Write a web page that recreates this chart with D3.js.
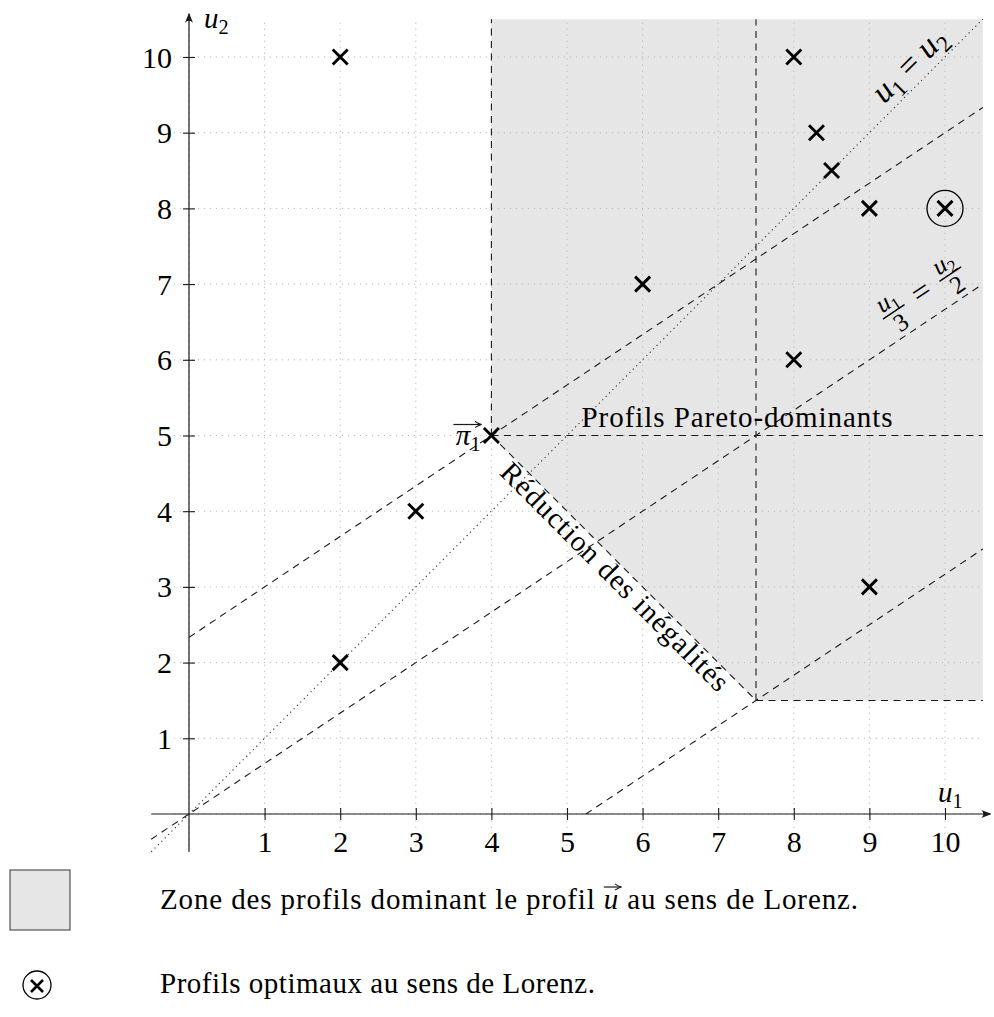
<!DOCTYPE html>
<html>
<head>
<meta charset="utf-8">
<script src="https://cdn.jsdelivr.net/npm/d3@7"></script>
<style>
  body { margin: 0; background: #fff; }
  svg text { font-family: "Liberation Serif", "DejaVu Serif", serif; }
</style>
</head>
<body>
<svg id="chart" width="994" height="1017"></svg>
<script>
// ---- data ----------------------------------------------------------
const tickValues = [1, 2, 3, 4, 5, 6, 7, 8, 9, 10];
const gridValues = [0, 1, 2, 3, 4, 5, 6, 7, 8, 9, 10];

// candidate utility profiles (u1, u2)
const profileU1 = [2, 8, 8.3, 8.5, 9, 10, 6, 8, 4, 3, 2, 9];
const profileU2 = [10, 10, 9, 8.5, 8, 8, 7, 6, 5, 4, 2, 3];

// Lorenz-optimal profiles
const optimalU1 = [10];
const optimalU2 = [8];

// reference profile pi_1
const pi1 = [4, 5];

// zone of profiles Lorenz-dominating pi_1
const zoneU1 = [4, 4, 7.5, 10.5, 10.5];
const zoneU2 = [10.5, 5, 1.5, 1.5, 10.5];

// dashed construction segments: [u1 start, u2 start, u1 end, u2 end]
const dashedSegments = [
  [4, 5, 4, 10.5],
  [4, 5, 10.5, 5],
  [7.5, 1.5, 7.5, 10.5],
  [7.5, 1.5, 10.5, 1.5],
  [4, 5, 7.5, 1.5],
  [0, 7 / 3, 10.5, 28 / 3],
  [-0.5, -1 / 3, 10.5, 7],
  [5.25, 0, 10.5, 3.5]
];
// bisector u1 = u2
const bisector = [-0.5, -0.5, 10.5, 10.5];

// ---- layout --------------------------------------------------------
const SERIF = "Liberation Serif";
const svg = d3.select("#chart");
const x = d3.scaleLinear().domain([0, 10]).range([189, 945]);
const y = d3.scaleLinear().domain([0, 10]).range([814, 57]);

const FONT = 29;
const ink = "#1a1a1a";

const defs = svg.append("defs");
defs.append("marker")
  .attr("id", "arrowhead")
  .attr("viewBox", "0 0 10 10")
  .attr("refX", 9).attr("refY", 5)
  .attr("markerWidth", 10).attr("markerHeight", 10)
  .attr("markerUnits", "userSpaceOnUse")
  .attr("orient", "auto")
  .append("path")
  .attr("d", "M0,1 Q4,5 0,9 L10,5 Z")
  .attr("fill", ink);
defs.append("marker")
  .attr("id", "vecarrow")
  .attr("viewBox", "0 0 10 10")
  .attr("refX", 9).attr("refY", 5)
  .attr("markerWidth", 8).attr("markerHeight", 8)
  .attr("markerUnits", "userSpaceOnUse")
  .attr("orient", "auto")
  .append("path")
  .attr("d", "M1,1 Q5,4 9,5 Q5,6 1,9")
  .attr("fill", "none").attr("stroke", ink).attr("stroke-width", 1.3);

// zone fill
svg.append("polygon")
  .attr("points", zoneU1.map((u, i) => [x(u), y(zoneU2[i])].join(",")).join(" "))
  .attr("fill", "#e6e6e6");

// grid
const grid = svg.append("g")
  .attr("stroke", "#b8b8b8").attr("stroke-width", 1)
  .attr("stroke-dasharray", "1.2,4.8");
grid.selectAll("line.v").data(gridValues).join("line").attr("class", "v")
  .attr("x1", d => x(d)).attr("x2", d => x(d))
  .attr("y1", y(-0.5)).attr("y2", y(10.5));
grid.selectAll("line.h").data(gridValues).join("line").attr("class", "h")
  .attr("y1", d => y(d)).attr("y2", d => y(d))
  .attr("x1", x(-0.2)).attr("x2", x(10.5));

// dashed construction lines
svg.append("g")
  .attr("stroke", ink).attr("stroke-width", 1.1)
  .attr("stroke-dasharray", "7,5.5")
  .selectAll("line").data(dashedSegments).join("line")
  .attr("x1", d => x(d[0])).attr("y1", d => y(d[1]))
  .attr("x2", d => x(d[2])).attr("y2", d => y(d[3]));

// bisector, dotted
svg.append("line")
  .attr("x1", x(bisector[0])).attr("y1", y(bisector[1]))
  .attr("x2", x(bisector[2])).attr("y2", y(bisector[3]))
  .attr("stroke", "#333").attr("stroke-width", 1.1)
  .attr("stroke-dasharray", "1.2,3.6");

// axes
const xAxis = svg.append("g")
  .attr("transform", `translate(0,${y(0)})`)
  .call(d3.axisBottom(x).tickValues(tickValues).tickSize(6).tickSizeOuter(0))
  .attr("font-family", SERIF).attr("font-size", 30);
xAxis.select(".domain").remove();
xAxis.selectAll(".tick line").attr("y1", -6).attr("y2", 6).attr("stroke", ink).attr("stroke-width", 1.1);
xAxis.selectAll(".tick text")
  .attr("y", 38).attr("dy", 0).attr("fill", "#000");

const yAxis = svg.append("g")
  .attr("transform", `translate(${x(0)},0)`)
  .call(d3.axisLeft(y).tickValues(tickValues).tickSize(6).tickSizeOuter(0))
  .attr("font-family", SERIF).attr("font-size", 30);
yAxis.select(".domain").remove();
yAxis.selectAll(".tick line").attr("x1", -6).attr("x2", 6).attr("stroke", ink).attr("stroke-width", 1.1);
yAxis.selectAll(".tick text")
  .attr("x", -17).attr("dy", 0).attr("y", 10).attr("fill", "#000");

svg.append("line")
  .attr("x1", x(-0.5)).attr("y1", y(0))
  .attr("x2", x(10.6)).attr("y2", y(0))
  .attr("stroke", ink).attr("stroke-width", 1.2)
  .attr("marker-end", "url(#arrowhead)");
svg.append("line")
  .attr("x1", x(0)).attr("y1", y(-0.5))
  .attr("x2", x(0)).attr("y2", y(10.57))
  .attr("stroke", ink).attr("stroke-width", 1.2)
  .attr("marker-end", "url(#arrowhead)");

// text helper
function txt(g, px, py, size, anchor) {
  return g.append("text")
    .attr("x", px).attr("y", py)
    .attr("font-family", SERIF)
    .attr("font-size", size).attr("fill", "#000")
    .attr("text-anchor", anchor || "start");
}
// italic variable with subscript
function mathVar(g, px, py, base, sub, size, anchor) {
  const t = txt(g, px, py, size, anchor);
  t.append("tspan").attr("font-style", "italic").text(base);
  t.append("tspan").attr("font-size", size * 0.7).attr("dy", size * 0.22).text(sub);
  return t;
}

mathVar(svg, 204, 28, "u", "2", FONT);
mathVar(svg, 938, 802, "u", "1", FONT);

// profile markers
function cross(g, cx, cy, h, w) {
  g.append("path")
    .attr("d", `M${cx - h},${cy - h}L${cx + h},${cy + h}M${cx - h},${cy + h}L${cx + h},${cy - h}`)
    .attr("stroke", "#000").attr("stroke-width", w).attr("fill", "none");
}
const marks = svg.append("g");
profileU1.forEach((u, i) => cross(marks, x(u), y(profileU2[i]), 7.5, 2.9));

svg.selectAll("circle.opt")
  .data(optimalU1.map((u, i) => [u, optimalU2[i]]))
  .join("circle").attr("class", "opt")
  .attr("cx", d => x(d[0])).attr("cy", d => y(d[1])).attr("r", 18)
  .attr("fill", "none").attr("stroke", "#000").attr("stroke-width", 1.3);

// pi_1 label
const piX = x(pi1[0]), piY = y(pi1[1]);
const piT = txt(svg, piX - 11, piY + 9, FONT, "end");
piT.append("tspan").attr("font-style", "italic").text("π");
piT.append("tspan").attr("font-size", 20).attr("dy", 6).text("1");
svg.append("line")
  .attr("x1", piX - 38).attr("x2", piX - 10)
  .attr("y1", piY - 11).attr("y2", piY - 11)
  .attr("stroke", ink).attr("stroke-width", 1.2)
  .attr("marker-end", "url(#vecarrow)");

// slope angles in screen space
const ang1 = Math.atan2(y(1) - y(0), x(1) - x(0)) * 180 / Math.PI;
const ang23 = Math.atan2(y(2 / 3) - y(0), x(1) - x(0)) * 180 / Math.PI;

// "u1 = u2" along the bisector
const l1 = svg.append("g").attr("transform", `translate(910,66) rotate(${ang1})`);
const t1 = txt(l1, 0, 9, 33, "middle");
t1.append("tspan").attr("font-style", "italic").text("u");
t1.append("tspan").attr("font-size", 23).attr("dy", 7).text("1");
t1.append("tspan").attr("dy", -7).text(" = ");
t1.append("tspan").attr("font-style", "italic").text("u");
t1.append("tspan").attr("font-size", 23).attr("dy", 7).text("2");

// "u1/3 = u2/2" along the line through the origin
const l2 = svg.append("g").attr("transform", `translate(922,293) rotate(${ang23})`);
function frac(g, cx, numBase, numSub, den) {
  const n = txt(g, cx, -5, 25, "middle");
  n.append("tspan").attr("font-style", "italic").text(numBase);
  n.append("tspan").attr("font-size", 17).attr("dy", 5).text(numSub);
  g.append("line").attr("x1", cx - 13).attr("x2", cx + 13).attr("y1", 0).attr("y2", 0)
    .attr("stroke", "#000").attr("stroke-width", 1.3);
  txt(g, cx, 21, 25, "middle").text(den);
}
frac(l2, -34, "u", "1", "3");
txt(l2, 0, 9, 32, "middle").text("=");
frac(l2, 34, "u", "2", "2");

// region labels
txt(svg, 737, 427, FONT, "middle")
  .attr("textLength", 311).attr("lengthAdjust", "spacing")
  .text("Profils Pareto-dominants");

const mx = (x(4) + x(7.5)) / 2, my = (y(5) + y(1.5)) / 2;
const off = 22;
const rg = svg.append("g")
  .attr("transform", `translate(${mx - off / Math.SQRT2},${my + off / Math.SQRT2}) rotate(${-ang1})`);
txt(rg, 0, 0, FONT, "middle")
  .attr("textLength", 310).attr("lengthAdjust", "spacing")
  .text("Réduction des inégalités");

// legend
svg.append("rect")
  .attr("x", 10).attr("y", 870).attr("width", 60).attr("height", 60)
  .attr("fill", "#e6e6e6").attr("stroke", "#333").attr("stroke-width", 1);
const lg1 = txt(svg, 160, 909, FONT)
  .attr("textLength", 698).attr("lengthAdjust", "spacing");
lg1.append("tspan").text("Zone des profils dominant le profil ");
lg1.append("tspan").attr("font-style", "italic").text("u");
lg1.append("tspan").text(" au sens de Lorenz.");
const uIdx = "Zone des profils dominant le profil ".length;
const uStart = lg1.node().getStartPositionOfChar(uIdx);
const uEnd = lg1.node().getEndPositionOfChar(uIdx);
svg.append("line")
  .attr("x1", uStart.x).attr("x2", uEnd.x + 3)
  .attr("y1", 887).attr("y2", 887)
  .attr("stroke", ink).attr("stroke-width", 1.2)
  .attr("marker-end", "url(#vecarrow)");

svg.append("circle").attr("cx", 37).attr("cy", 985).attr("r", 14)
  .attr("fill", "none").attr("stroke", "#000").attr("stroke-width", 1.3);
cross(svg, 37, 986, 6, 2.6);
txt(svg, 160, 993, FONT)
  .attr("textLength", 435).attr("lengthAdjust", "spacing")
  .text("Profils optimaux au sens de Lorenz.");
</script>
</body>
</html>
